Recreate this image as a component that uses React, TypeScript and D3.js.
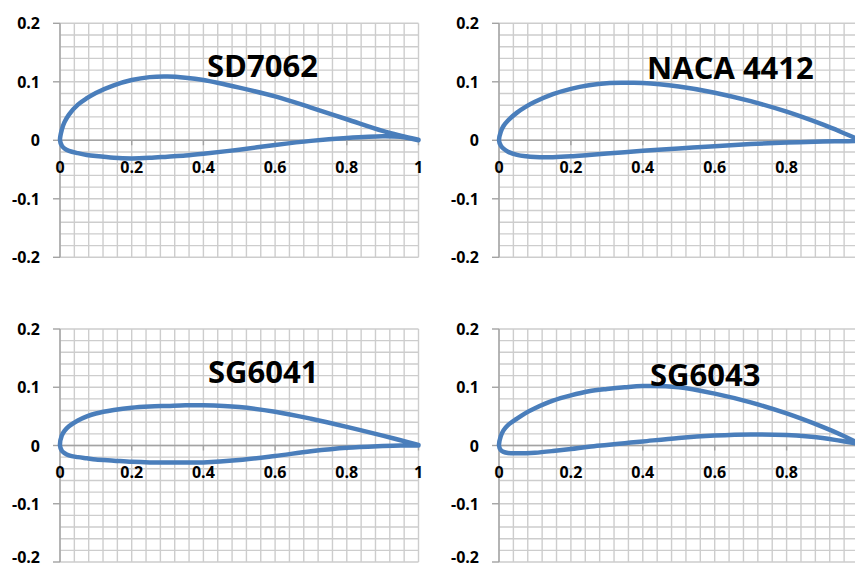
import { curveCatmullRom, line, range, scaleLinear } from "d3";

// chord stations shared by every section (x / c)
const chordX = [0, 0.005, 0.0125, 0.025, 0.05, 0.075, 0.1, 0.15, 0.2, 0.25, 0.3, 0.35, 0.4, 0.5, 0.6, 0.7, 0.8, 0.9, 0.95, 1];

const airfoilNames = ["SD7062", "NACA 4412", "SG6041", "SG6043"];

const sd7062Upper = [0, 0.018, 0.031, 0.044, 0.061, 0.072, 0.081, 0.094, 0.103, 0.108, 0.109, 0.107, 0.103, 0.09, 0.075, 0.056, 0.036, 0.016, 0.008, 0.001];
const sd7062Lower = [0, -0.009, -0.014, -0.018, -0.022, -0.025, -0.027, -0.03, -0.031, -0.03, -0.028, -0.026, -0.023, -0.016, -0.008, -0.001, 0.004, 0.007, 0.006, 0];

const naca4412Upper = [0, 0.0145, 0.0244, 0.0339, 0.0473, 0.0576, 0.0659, 0.0789, 0.088, 0.0941, 0.0976, 0.0982, 0.098, 0.0919, 0.0814, 0.0669, 0.0489, 0.0271, 0.0147, 0.0013];
const naca4412Lower = [0, -0.009, -0.0143, -0.0195, -0.0249, -0.0274, -0.0286, -0.0288, -0.0274, -0.025, -0.0226, -0.0203, -0.018, -0.014, -0.01, -0.0065, -0.0039, -0.0022, -0.0016, -0.0013];

const sg6041Upper = [0, 0.017, 0.025, 0.033, 0.043, 0.05, 0.055, 0.061, 0.065, 0.067, 0.068, 0.069, 0.069, 0.066, 0.058, 0.046, 0.032, 0.017, 0.009, 0.001];
const sg6041Lower = [0, -0.009, -0.013, -0.017, -0.02, -0.022, -0.024, -0.026, -0.028, -0.029, -0.029, -0.029, -0.029, -0.025, -0.018, -0.01, -0.004, -0.001, 0, 0];

const sg6043Upper = [0, 0.016, 0.026, 0.035, 0.046, 0.056, 0.064, 0.077, 0.086, 0.093, 0.097, 0.1, 0.102, 0.1, 0.089, 0.074, 0.055, 0.032, 0.019, 0.004];
const sg6043Lower = [0, -0.008, -0.011, -0.013, -0.0135, -0.0133, -0.0125, -0.0095, -0.006, -0.002, 0.001, 0.004, 0.007, 0.013, 0.017, 0.019, 0.018, 0.013, 0.008, 0.003];

const xTickLabels = ["0", "0.2", "0.4", "0.6", "0.8", "1"];
const yTickLabels = ["-0.2", "-0.1", "0", "0.1", "0.2"];

const sections = [
  { upper: sd7062Upper, lower: sd7062Lower },
  { upper: naca4412Upper, lower: naca4412Lower },
  { upper: sg6041Upper, lower: sg6041Lower },
  { upper: sg6043Upper, lower: sg6043Lower }
];

// plot frames in page pixels, plus where the title sits in data units
const frames = [
  { left: 60, right: 418.5, top: 23.3, bottom: 257.3, titleX: 0.41, titleY: 0.108 },
  { left: 499, right: 858.5, top: 23.3, bottom: 257.3, titleX: 0.412, titleY: 0.105 },
  { left: 60, right: 418.5, top: 329, bottom: 562, titleX: 0.413, titleY: 0.107 },
  { left: 499, right: 858.5, top: 329, bottom: 562, titleX: 0.42, titleY: 0.102 }
];

const WIDTH = 855;
const HEIGHT = 568;
const FONT = "'Open Sans', 'DejaVu Sans', sans-serif";
const LINE_COLOR = "#4a7ebb";
const GRID_COLOR = "#cdcdcd";
const AXIS_COLOR = "#a3a3a3";

type Point = [number, number];

function AirfoilPanel({ index }: { index: number }) {
  const frame = frames[index];
  const section = sections[index];
  const x = scaleLinear().domain([0, 1]).range([frame.left, frame.right]);
  const y = scaleLinear().domain([-0.2, 0.2]).range([frame.bottom, frame.top]);

  const upperPts: Point[] = chordX.map((cx, i) => [cx, section.upper[i]]);
  const lowerPts: Point[] = chordX.map((cx, i) => [cx, section.lower[i]]);
  const outline = [...upperPts.slice().reverse(), ...lowerPts.slice(1)];
  const path = line<Point>()
    .x((d) => x(d[0]))
    .y((d) => y(d[1]))
    .curve(curveCatmullRom.alpha(0.5))(outline);

  const verticals = range(0, 26).map((i) => i * 0.04);
  const horizontals = range(0, 21).map((i) => -0.2 + i * 0.02);
  // labels that would fall past the page edge are cropped away in the original
  const visibleXLabels = xTickLabels.filter((label) => x(+label) < WIDTH - 4);

  return (
    <g>
      {horizontals.map((v) => (
        <line key={`h${v}`} x1={x(0)} x2={x(1)} y1={y(v)} y2={y(v)} stroke={GRID_COLOR} strokeWidth={1.4} />
      ))}
      {verticals.map((v) => (
        <line key={`v${v}`} x1={x(v)} x2={x(v)} y1={y(-0.2)} y2={y(0.2)} stroke={GRID_COLOR} strokeWidth={1.4} />
      ))}
      <line x1={x(0)} x2={x(0)} y1={y(-0.2)} y2={y(0.2)} stroke={AXIS_COLOR} strokeWidth={1.4} />
      <line x1={x(0)} x2={x(1)} y1={y(0)} y2={y(0)} stroke={AXIS_COLOR} strokeWidth={1.4} />
      {yTickLabels.map((label) => (
        <g key={`yt${label}`}>
          <line x1={x(0) - 7} x2={x(0)} y1={y(+label)} y2={y(+label)} stroke={AXIS_COLOR} strokeWidth={1.4} />
          <text
            x={x(0) - 20}
            y={Math.min(y(+label) + 6, HEIGHT - 5)}
            textAnchor="end"
            fontFamily={FONT}
            fontWeight={700}
            fontSize={16}
            fill="#000"
          >
            {label}
          </text>
        </g>
      ))}
      {xTickLabels.map((label) => (
        <line
          key={`xk${label}`}
          x1={x(+label)}
          x2={x(+label)}
          y1={y(0)}
          y2={y(0) + 5}
          stroke={AXIS_COLOR}
          strokeWidth={1.4}
        />
      ))}
      {visibleXLabels.map((label) => (
        <text
          key={`xt${label}`}
          x={x(+label)}
          y={y(0) + 32.5}
          textAnchor="middle"
          fontFamily={FONT}
          fontWeight={700}
          fontSize={16}
          fill="#000"
        >
          {label}
        </text>
      ))}
      {path ? (
        <path d={path} fill="none" stroke={LINE_COLOR} strokeWidth={4.5} strokeLinejoin="round" strokeLinecap="round" />
      ) : null}
      <text
        x={x(frame.titleX)}
        y={y(frame.titleY)}
        fontFamily={FONT}
        fontWeight={700}
        fontSize={31}
        fill="#000"
      >
        {airfoilNames[index]}
      </text>
    </g>
  );
}

export default function App() {
  return (
    <svg
      width={WIDTH}
      height={HEIGHT}
      viewBox={`0 0 ${WIDTH} ${HEIGHT}`}
      style={{ position: "absolute", left: 0, top: 0, background: "#fff" }}
    >
      <rect width={WIDTH} height={HEIGHT} fill="#fff" />
      {frames.map((_frame, i) => (
        <AirfoilPanel key={airfoilNames[i]} index={i} />
      ))}
    </svg>
  );
}
